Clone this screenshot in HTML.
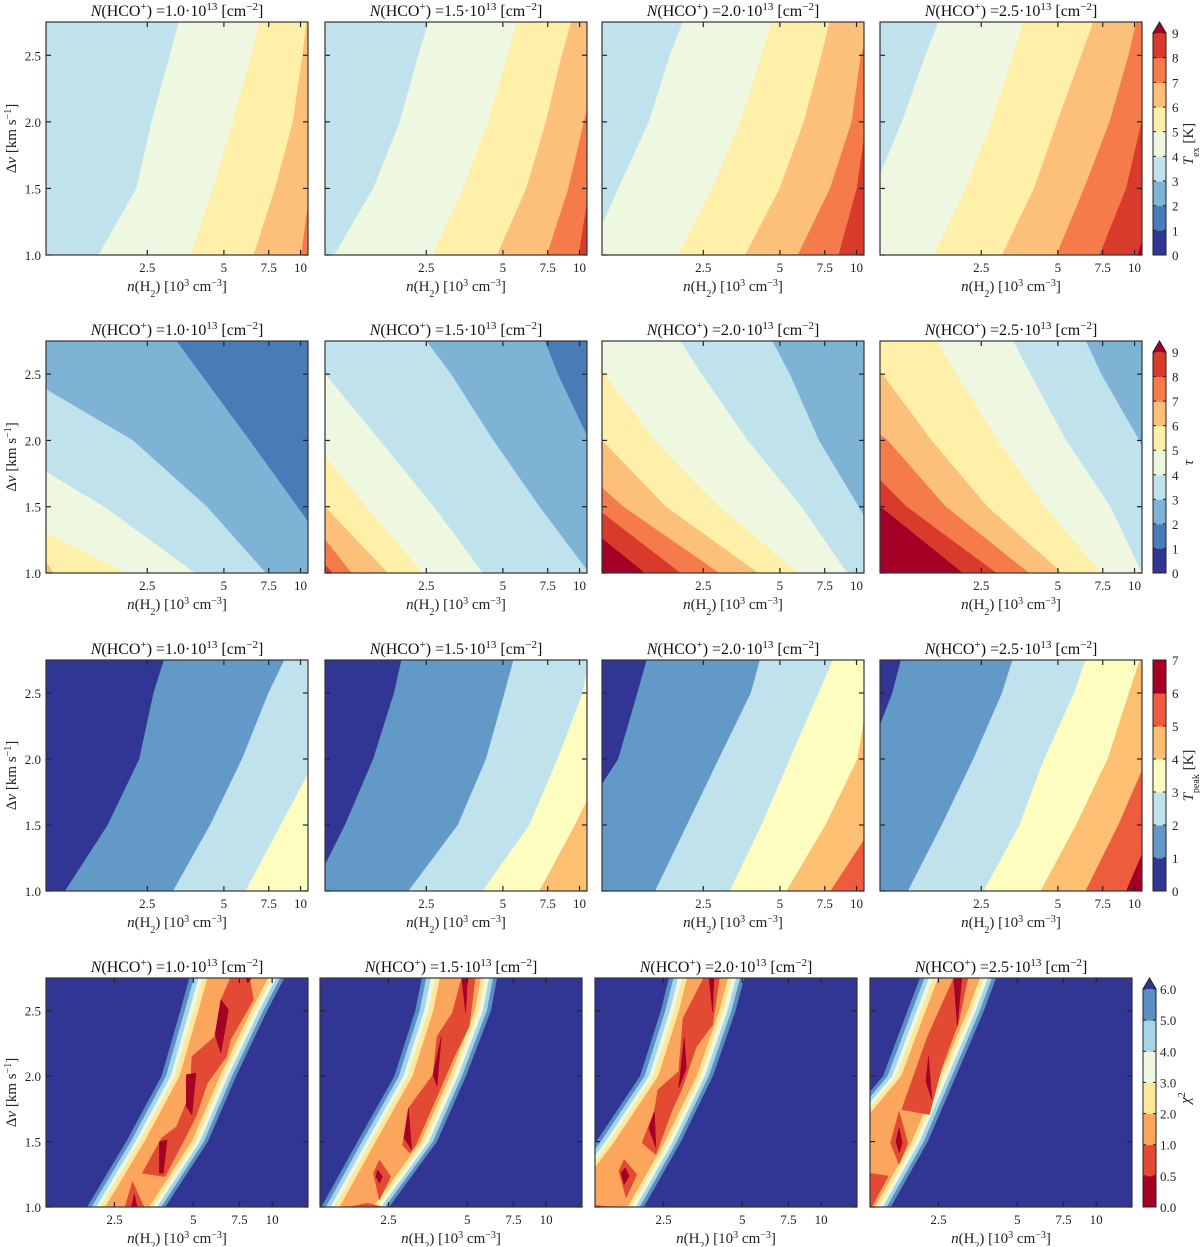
<!DOCTYPE html>
<html><head><meta charset="utf-8"><title>HCO+ grid</title>
<style>
html,body{margin:0;padding:0;background:#fff;}
svg{display:block;font-family:"Liberation Serif",serif;}
</style></head>
<body>
<svg id="fig" width="1200" height="1247" viewBox="0 0 1200 1247" xmlns="http://www.w3.org/2000/svg"></svg>
<script>
// ---------- data ----------
const dvLevels = [1.0, 1.5, 2.0, 2.5, 2.75];
const columnValues = ['1.0', '1.5', '2.0', '2.5'];
const xTickValues = [2.5, 5, 7.5, 10];
const xTickLabels = ['2.5', '5', '7.5', '10'];
const yTickValues = [1.0, 1.5, 2.0, 2.5];
const yTickLabels = ['1.0', '1.5', '2.0', '2.5'];

// Row 1: T_ex boundaries (n at dvLevels), bands increase to the right
const texBase = [3, 3, 3, 3];
const texBounds = [
  [[1.61,2.27,2.60,3.07,3.33],[3.72,4.53,5.43,6.41,6.91],[6.55,7.95,9.34,10.2,10.56],[10.06,10.93,12.0,12.9,13.5]],
  [[1.09,1.55,1.97,2.33,2.56],[2.65,3.49,4.38,5.23,5.67],[4.75,6.19,7.39,8.53,9.28],[7.46,9.06,10.42,12.0,12.9],[9.94,10.93,12.0,12.9,13.5]],
  [[0.89,1.16,1.53,1.85,2.08],[1.99,2.71,3.51,4.24,4.66],[3.66,5.0,6.21,7.30,7.83],[5.89,7.88,9.58,10.42,11.5],[8.51,10.04,10.93,12.0,12.9]],
  [[0.62,0.95,1.22,1.51,1.70],[1.63,2.17,2.75,3.33,3.66],[3.02,4.03,4.98,6.19,6.90],[4.94,6.35,7.99,9.49,10.18],[7.30,9.28,10.67,11.7,12.3],[10.3,12.5,13.5,13.5,13.5]]
];
// Row 2: tau boundaries, bands increase to the left
const tauBase = [1, 1, 2, 2];
const tauBounds = [
  [[14.9,9.7,6.3,4.05,3.25],[7.30,4.28,2.19,0.79,0.62],[3.84,1.69,0.62,0.31,0.24],[2.05,0.62,0.31,0.19,0.15],[1.07,0.70,0.31,0.15,0.12]],
  [[19.3,14.2,10.9,8.2,7.3],[10.9,6.95,4.58,3.12,2.50],[4.17,2.67,1.64,1.0,0.79],[2.42,1.45,0.89,0.49,0.39],[1.76,1.0,0.49,0.31,0.24],[1.27,0.79,0.39,0.24,0.19],[1.07,0.62,0.31,0.19,0.15]],
  [[14.2,10.18,7.10,5.46,4.66],[9.18,6.06,3.73,2.46,2.03],[5.91,2.88,1.61,1.02,0.79],[4.10,1.78,1.0,0.55,0.44],[2.88,1.21,0.62,0.34,0.27],[2.03,0.93,0.49,0.31,0.24],[1.47,0.70,0.39,0.24,0.19]],
  [[17.2,13.5,10.42,7.39,6.43],[10.67,8.03,5.38,3.89,3.33],[7.39,4.42,2.90,1.99,1.67],[5.19,2.64,1.59,1.02,0.79],[3.84,1.81,1.07,0.49,0.39],[2.86,1.27,0.70,0.39,0.31],[2.11,1.0,0.49,0.31,0.24]]
];
// Row 3: T_peak boundaries, bands increase to the right
const tpkBase = [0, 0, 0, 0];
const tpkBounds = [
  [[1.19,1.75,2.33,2.65,2.91],[3.16,4.42,5.90,7.49,8.65],[6.09,8.37,11.5,15.2,17.2],[10.55,13.5,17.2,17.2,17.2]],
  [[0.89,1.20,1.55,1.87,2.0],[2.13,3.33,4.30,5.08,5.51],[4.17,6.36,8.21,10.3,10.9],[6.97,9.61,12.9,15.2,17.2]],
  [[0.62,0.79,1.16,1.38,1.50],[1.62,2.16,2.88,3.85,4.18],[3.18,4.24,5.48,7.10,8.07],[5.31,7.56,10.1,11.2,12.0],[7.92,11.7,15.2,17.2,17.2]],
  [[0.49,0.62,0.89,1.12,1.21],[1.29,1.75,2.33,3.02,3.32],[2.56,3.54,4.42,5.80,6.43],[4.28,5.90,7.85,9.52,10.5],[6.43,8.65,11.2,14.2,15.2],[9.28,12.0,15.2,17.2,17.2]]
];
// Row 4: chi^2 ribbon outer edges (chi2 = 6) at dvLevels
const chiOuterLeft = [
  [1.97, 2.78, 3.79, 4.47, 4.84],
  [1.39, 1.91, 2.64, 3.17, 3.36],
  [0.90, 1.39, 2.04, 2.45, 2.63],
  [0.60, 0.95, 1.54, 1.91, 2.13]
];
const chiOuterRight = [
  [3.90, 5.67, 7.27, 9.55, 11.1],
  [2.51, 3.82, 4.93, 6.14, 6.48],
  [2.10, 2.91, 3.85, 4.70, 5.07],
  [1.64, 2.27, 2.91, 3.72, 4.14]
];
// measured inward spacing of the chi2 = 6,5,4,3,2 edges relative to the outer edge
const chiShiftLeft = [1.0, 1.04, 1.083, 1.122, 1.172];
const chiShiftRight = [1.0, 0.965, 0.932, 0.9, 0.868];
// chi^2 < 1 patches
const chiRed = [
  [[[2.74,1.0],[2.93,1.194],[3.24,1.0]],
   [[3.19,1.258],[3.78,1.526],[4.32,1.615],[4.86,1.87],[4.94,2.15],[6.05,2.304],[6.37,2.584],[6.93,2.75],[8.20,2.75],[8.49,2.584],[6.93,2.278],[6.70,2.15],[5.66,1.946],[5.12,1.691],[4.62,1.513],[3.90,1.232]]],
  [[[1.76,1.0],[2.08,1.028],[2.39,1.0]],
   [[2.19,1.258],[2.31,1.36],[2.55,1.232],[2.31,1.054]],
   [[2.83,1.474],[2.98,1.755],[3.70,2.01],[3.83,2.304],[4.38,2.482],[4.76,2.75],[5.36,2.75],[5.09,2.38],[4.46,2.15],[3.83,1.844],[3.18,1.474],[3.02,1.411]]],
  [[[1.0,1.0],[1.0,1.04],[1.59,1.0]],
   [[1.69,1.274],[1.77,1.363],[1.98,1.249],[1.80,1.071]],
   [[2.07,1.49],[2.31,1.731],[2.38,1.896],[2.86,2.036],[2.97,2.442],[3.56,2.75],[4.09,2.75],[3.85,2.391],[3.34,2.226],[2.95,1.909],[2.69,1.731],[2.34,1.401]]],
  [[[1.0,1.30],[1.61,1.236],[1.39,1.0],[1.0,1.0]],
   [[1.64,1.49],[1.77,1.731],[1.91,1.49],[1.77,1.325]],
   [[1.81,1.744],[2.27,2.302],[2.86,2.75],[3.24,2.75],[2.99,2.416],[2.57,2.061],[2.31,1.706]]]
];
// chi^2 < 0.5 patches
const chiDark = [
  [[[3.71,1.50],[3.97,1.513],[3.84,1.258],[3.71,1.258]],[[4.70,2.01],[5.12,2.023],[4.94,1.704],[4.70,1.768]],[[6.05,2.316],[6.37,2.584],[6.81,2.508],[6.37,2.176]],[[7.92,2.75],[8.34,2.75],[8.07,2.712]],[[2.9,1.0],[2.98,1.1],[3.05,1.0]]],
  [[[2.27,1.283],[2.37,1.232],[2.31,1.181],[2.24,1.232]],[[2.87,1.526],[2.98,1.755],[3.07,1.436]],[[3.70,2.01],[3.98,2.304],[3.83,1.921]],[[4.76,2.75],[5.01,2.75],[4.93,2.482]]],
  [[[1.72,1.261],[1.79,1.30],[1.85,1.236],[1.77,1.173]],[[2.20,1.604],[2.31,1.731],[2.34,1.452]],[[2.86,1.909],[3.0,2.302],[3.06,2.061]],[[3.73,2.75],[3.90,2.75],[3.85,2.492]]],
  [[[1.72,1.503],[1.77,1.604],[1.82,1.49],[1.77,1.414]],[[2.24,1.959],[2.29,2.15],[2.36,1.82]],[[2.86,2.75],[3.07,2.75],[2.95,2.378]],[[1.0,1.05],[1.38,1.08],[1.0,1.15]]]
];
const cb12Labels = ['0','1','2','3','4','5','6','7','8','9'];
const cb3Labels = ['0','1','2','3','4','5','6','7'];
const cb4Labels = ['0.0','0.5','1.0','2.0','3.0','4.0','5.0','6.0'];

// ---------- styles ----------
const colA = ['#313695','#4a7bb7','#7fb3d5','#bfe2ec','#eef7e0','#fef0a8','#fdc07a','#f67b4b','#d83a2c','#a50026'];
const colT = ['#313695','#6399c7','#c0e2ed','#fefdc0','#fdc073','#ee5b3e','#a50026'];
const colC = ['#a50026','#e34a33','#fca55d','#fee99a','#eef7e2','#a7d5e8','#5b8ec3','#313695'];
const rowTops = [22, 341, 660, 978];
const rowH = [233, 232, 231, 229];
const lefts = [[46,325,602,880],[46,325,602,880],[46,325,602,880],[46,320,595,870]];
const W = 262;
const doms = [[1.0,10.7],[1.0,10.7],[1.0,10.7],[1.37,13.7]];

const NS = 'http://www.w3.org/2000/svg';
const svg = document.getElementById('fig');
function mk(tag, attrs, parent) {
  const e = document.createElementNS(NS, tag);
  for (const k in attrs) e.setAttribute(k, attrs[k]);
  parent.appendChild(e);
  return e;
}
function xS(n, r, c) {
  const d = doms[r];
  return lefts[r][c] + (Math.log10(n) - Math.log10(d[0])) / (Math.log10(d[1]) - Math.log10(d[0])) * W;
}
function yS(dv, r) { return rowTops[r] + (2.75 - dv) / 1.75 * rowH[r]; }
function pts(arr, r, c) { return arr.map(p => xS(p[0], r, c).toFixed(1) + ',' + yS(p[1], r).toFixed(1)).join(' '); }

const defs = mk('defs', {}, svg);

function sup(t, txt, fs) {
  const s = mk('tspan', {'baseline-shift': 'super', 'font-size': fs}, t);
  s.textContent = txt;
}
function plain(t, txt, extra) {
  const s = mk('tspan', extra || {}, t);
  s.textContent = txt;
}

function drawPanel(r, c) {
  const L = lefts[r][c], T = rowTops[r], H = rowH[r];
  const g = mk('g', {}, svg);
  
  
  const cp = mk('clipPath', {id: 'cp' + r + c}, defs);
  mk('rect', {x: L, y: T, width: W, height: H}, cp);
  const plot = mk('g', {'clip-path': 'url(#cp' + r + c + ')'}, g);
  const dom = doms[r];
  if (r < 3) {
    const base = [texBase, tauBase, tpkBase][r][c];
    const bounds = [texBounds, tauBounds, tpkBounds][r][c];
    const cols = r === 2 ? colT : colA;
    const bg = mk('rect', {x: L, y: T, width: W, height: H, fill: cols[base]}, plot);
    
    
    const side = r === 1 ? 'left' : 'right';
    bounds.forEach((b, k) => {
      const p = b.map((n, i) => [n, dvLevels[i]]);
      const far = side === 'right' ? dom[1] * 5 : dom[0] / 5;
      p.push([far, 2.75], [far, 1.0]);
      const band = Math.min(base + k + 1, cols.length - 1);
      const poly = mk('polygon', {points: pts(p, r, c), fill: cols[band], stroke: cols[band], 'stroke-width': 0.5}, plot);
      
      
    });
  } else {
    const bg = mk('rect', {x: L, y: T, width: W, height: H, fill: colC[7]}, plot);
    
    
    for (let j = 0; j < 5; j++) {
      const lp = chiOuterLeft[c].map((n, i) => [n * chiShiftLeft[j], dvLevels[i]]);
      const rp = chiOuterRight[c].map((n, i) => [n * chiShiftRight[j], dvLevels[i]]).reverse();
      const last = lp.length - 1;
      const p = lp.concat([[lp[last][0], 3.5], [rp[0][0], 3.5]]).concat(rp).concat([[rp[rp.length - 1][0], 0.5], [lp[0][0], 0.5]]);
      const col = colC[6 - j];
      const poly = mk('polygon', {points: pts(p, r, c), fill: col, stroke: col, 'stroke-width': 0.5}, plot);
      
      
    }
    chiRed[c].forEach(pp => {
      const poly = mk('polygon', {points: pts(pp, r, c), fill: colC[1], stroke: colC[1], 'stroke-width': 0.5}, plot);
      
      
    });
    chiDark[c].forEach(pp => {
      const poly = mk('polygon', {points: pts(pp, r, c), fill: colC[0], stroke: colC[0], 'stroke-width': 0.5}, plot);
      
      
    });
  }
  // ticks
  const tk = mk('g', {stroke: '#222', 'stroke-width': 1.2}, g);
  
  
  yTickValues.forEach(v => {
    const y = yS(v, r);
    mk('line', {x1: L, x2: L + 5, y1: y, y2: y}, tk);
    mk('line', {x1: L + W - 5, x2: L + W, y1: y, y2: y}, tk);
  });
  xTickValues.forEach((v, i) => {
    const x = xS(v, r, c);
    mk('line', {x1: x, x2: x, y1: T + H, y2: T + H - 5}, tk);
    mk('line', {x1: x, x2: x, y1: T, y2: T + 5}, tk);
    const t = mk('text', {x: x, y: T + H + 17, 'text-anchor': 'middle', 'font-size': 13, fill: '#222'}, g);
    t.textContent = xTickLabels[i];
    
    
  });
  if (c === 0) {
    yTickValues.forEach((v, i) => {
      const t = mk('text', {x: L - 5, y: yS(v, r) + 5, 'text-anchor': 'end', 'font-size': 13, fill: '#222'}, g);
      t.textContent = yTickLabels[i];
      
      
    });
    const yl = mk('text', {transform: 'translate(16,' + (T + H / 2) + ') rotate(-90)', 'text-anchor': 'middle', 'font-size': 15, fill: '#222'}, g);
    plain(yl, 'Δ');
    plain(yl, 'v', {'font-style': 'italic'});
    plain(yl, ' [km s');
    sup(yl, '−1', 10);
    plain(yl, ']');
    
    
  }
  const fr = mk('rect', {x: L, y: T, width: W, height: H, fill: 'none', stroke: '#333', 'stroke-width': 1.2}, g);
  
  
  // title
  const tt = mk('text', {x: L + W / 2, y: T - 6, 'text-anchor': 'middle', 'font-size': 16, fill: '#111'}, g);
  plain(tt, 'N', {'font-style': 'italic'});
  plain(tt, '(HCO');
  sup(tt, '+', 11);
  plain(tt, ') =' + columnValues[c] + '·10');
  sup(tt, '13', 11);
  plain(tt, ' [cm');
  sup(tt, '−2', 11);
  plain(tt, ']');
  
  
  // x label
  const xl = mk('text', {x: L + W / 2, y: T + H + 36, 'text-anchor': 'middle', 'font-size': 15, fill: '#222'}, g);
  plain(xl, 'n', {'font-style': 'italic'});
  plain(xl, '(H');
  plain(xl, '2', {'baseline-shift': 'sub', 'font-size': 10});
  plain(xl, ') [10');
  sup(xl, '3', 10);
  plain(xl, ' cm');
  sup(xl, '−3', 10);
  plain(xl, ']');
  
  
}

function colorbar(name, x, top, bottom, cols, labels, extendCol, titleFn, labX, titleX) {
  const g = mk('g', {}, svg);
  
  
  const n = cols.length, h = (bottom - top) / n, w = 13;
  cols.forEach((col, i) => {
    const rr = mk('rect', {x: x, y: bottom - (i + 1) * h, width: w, height: h + 0.5, fill: col}, g);
    
    
  });
  let outline = 'M' + x + ',' + bottom + ' L' + x + ',' + top;
  if (extendCol) {
    const tri = mk('polygon', {points: x + ',' + top + ' ' + (x + w / 2) + ',' + (top - 11) + ' ' + (x + w) + ',' + top, fill: extendCol}, g);
    
    
    outline += ' L' + (x + w / 2) + ',' + (top - 11);
  }
  outline += ' L' + (x + w) + ',' + top + ' L' + (x + w) + ',' + bottom + ' Z';
  mk('path', {d: outline, fill: 'none', stroke: '#222', 'stroke-width': 1}, g);
  labels.forEach((lb, i) => {
    const y = bottom - i * h;
    mk('line', {x1: x, x2: x + 3, y1: y, y2: y, stroke: '#222'}, g);
    mk('line', {x1: x + w - 3, x2: x + w, y1: y, y2: y, stroke: '#222'}, g);
    const t = mk('text', {x: labX, y: y + 5, 'font-size': 13, fill: '#222'}, g);
    t.textContent = lb;
    
    
  });
  const tt = mk('text', {transform: 'translate(' + titleX + ',' + ((top + bottom) / 2) + ') rotate(-90)', 'text-anchor': 'middle', 'font-size': 15, fill: '#222'}, g);
  titleFn(tt);
  
  
}

for (let r = 0; r < 4; r++) for (let c = 0; c < 4; c++) drawPanel(r, c);

colorbar('colorbar-tex', 1153, 33, 255, colA.slice(0, 9), cb12Labels, colA[9], t => {
  plain(t, 'T', {'font-style': 'italic'});
  plain(t, 'ex', {'baseline-shift': 'sub', 'font-size': 10});
  plain(t, ' [K]');
}, 1172, 1193);
colorbar('colorbar-tau', 1153, 352, 573, colA.slice(0, 9), cb12Labels, colA[9], t => {
  plain(t, 'τ', {'font-style': 'italic'});
}, 1172, 1193);
colorbar('colorbar-tpeak', 1153, 660, 891, colT, cb3Labels, null, t => {
  plain(t, 'T', {'font-style': 'italic'});
  plain(t, 'peak', {'baseline-shift': 'sub', 'font-size': 10});
  plain(t, ' [K]');
}, 1172, 1193);
colorbar('colorbar-chi2', 1143, 989, 1207, colC.slice(0, 7), cb4Labels, colC[7], t => {
  plain(t, 'χ', {'font-style': 'italic'});
  sup(t, '2', 10);
}, 1160, 1190);
</script>
</body></html>
